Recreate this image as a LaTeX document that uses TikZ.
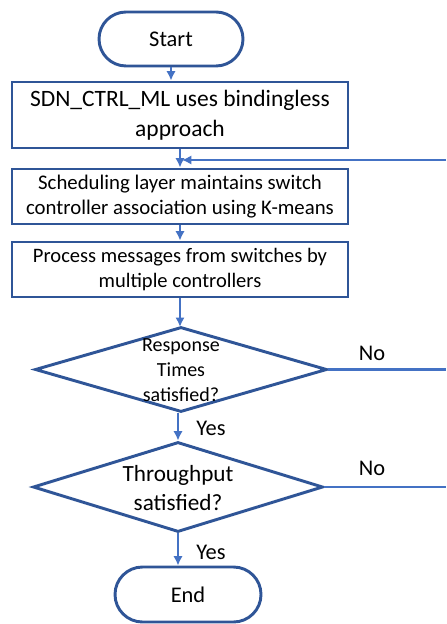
\documentclass[tikz,border=0pt]{standalone}
\usepackage{fontspec}
\setmainfont{Carlito}
\usetikzlibrary{shapes.geometric,shapes.misc,arrows.meta}
\definecolor{bord}{HTML}{2F5597}
\definecolor{arr}{HTML}{4472C4}
\begin{document}
\begin{tikzpicture}[x=0.75pt,y=-0.75pt,
  term/.style={rounded rectangle, draw=bord, line width=2.2pt, minimum width=108pt, minimum height=40.5pt, inner sep=0pt, font=\fontsize{16.8}{20}\selectfont},
  procbox/.style={rectangle, draw=bord, line width=2.2pt, minimum width=252pt, inner sep=0pt, align=center},
  dia/.style={diamond, draw=bord, line width=2.2pt, inner sep=0pt},
  flow/.style={draw=arr, line width=1.6pt, -{Latex[length=7pt,width=7pt]}},
  plain/.style={draw=arr, line width=1.6pt},
  lbl/.style={font=\fontsize{16.8}{20}\selectfont}
]
\useasboundingbox (0,0) rectangle (446,624);
\node[term] (start) at (171,39) {Start};
\node[procbox, minimum height=49.5pt, font=\fontsize{17.6}{22.5}\selectfont] (b1) at (180,115) {SDN\_CTRL\_ML uses bindingless\\approach};
\node[procbox, minimum height=41.25pt, font=\fontsize{15.6}{18.75}\selectfont] (b2) at (180,196.5) {Scheduling layer maintains switch\\controller association using K-means};
\node[procbox, minimum height=41.25pt, font=\fontsize{15.4}{18.75}\selectfont] (b3) at (180,269.5) {Process messages from switches by\\multiple controllers};
\node[dia, minimum width=219pt, minimum height=63.75pt] (d1) at (181,369.5) {};
\node[align=center, font=\fontsize{15}{18.75}\selectfont] (t1) at (181,370) {Response\\Times\\satisfied?};
\node[dia, minimum width=217.5pt, minimum height=67.5pt] (d2) at (178,487) {};
\node[align=center, font=\fontsize{17.4}{21.75}\selectfont] (t2) at (178,488) {Throughput\\satisfied?};
\node[term, minimum width=109.5pt, minimum height=41.25pt] (end) at (188,594.5) {End};
\coordinate (fb) at (446,160);
\coordinate (j1) at (180,160);
\coordinate (r1) at (446,369.5);
\coordinate (r2) at (446,487);
\node[lbl] (no1) at (372,353) {No};
\node[lbl] (no2) at (372,468) {No};
\node[lbl] (yes1) at (211,428) {Yes};
\node[lbl] (yes2) at (211,552) {Yes};
\draw[flow] (start.south) -- (start.south |- b1.north);
\draw[flow] (b1.south -| j1) -- (b2.north -| j1);
\draw[flow] (fb) -- ([xshift=1.5pt]j1);
\draw[flow] (b2.south -| j1) -- (b3.north -| j1);
\draw[flow] (b3.south -| j1) -- ([yshift=-1pt]d1.north -| j1);
\draw[flow] (d1.south -| d2.north) -- (d2.north);
\draw[flow] (d2.south) -- (d2.south |- end.north);
\draw[plain] (d1.east) -- (r1);
\draw[plain] (d2.east) -- (r2);
\end{tikzpicture}
\end{document}
